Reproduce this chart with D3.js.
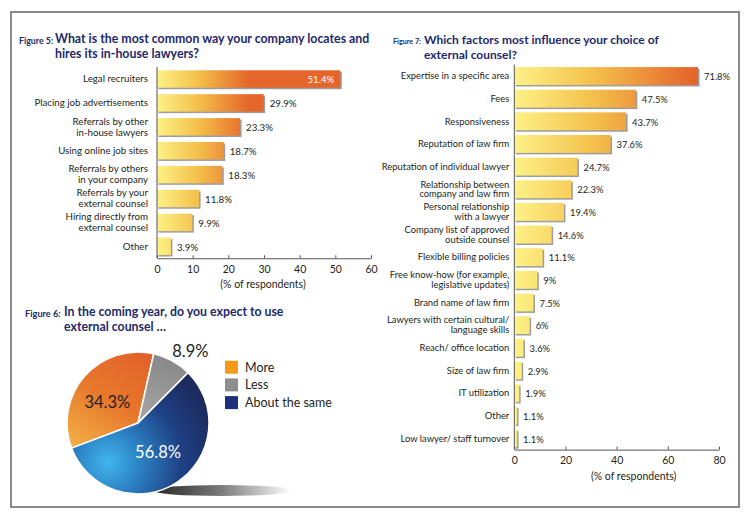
<!DOCTYPE html>
<html lang="en">
<head>
<meta charset="UTF-8">
<script src="https://cdn.jsdelivr.net/npm/d3@7/dist/d3.min.js"></script>
<title>In-house counsel survey</title>
<style>
  body { margin: 0; background: #fff; }
  text { font-family: Lato, "Open Sans", sans-serif; }
</style>
</head>
<body>
<svg></svg>
<script>
// figure 5
const hireCategories = ['Legal recruiters', 'Placing job advertisements', 'Referrals by other\nin-house lawyers',
  'Using online job sites', 'Referrals by others\nin your company', 'Referrals by your\nexternal counsel',
  'Hiring directly from\nexternal counsel', 'Other'];
const hireValues = [51.4, 29.9, 23.3, 18.7, 18.3, 11.8, 9.9, 3.9];
const hireTicks = [0, 10, 20, 30, 40, 50, 60];

// figure 6
const useCategories = ['More', 'Less', 'About the same'];
const useValues = [34.3, 8.9, 56.8];

// figure 7
const factorCategories = ['Expertise in a specific area', 'Fees', 'Responsiveness', 'Reputation of law firm',
  'Reputation of individual lawyer', 'Relationship between\ncompany and law firm', 'Personal relationship\nwith a lawyer',
  'Company list of approved\noutside counsel', 'Flexible billing policies', 'Free know-how (for example,\nlegislative updates)',
  'Brand name of law firm', 'Lawyers with certain cultural/\nlanguage skills', 'Reach/ office location',
  'Size of law firm', 'IT utilization', 'Other', 'Low lawyer/ staff turnover'];
const factorValues = [71.8, 47.5, 43.7, 37.6, 24.7, 22.3, 19.4, 14.6, 11.1, 9, 7.5, 6, 3.6, 2.9, 1.9, 1.1, 1.1];
const factorTicks = [0, 20, 40, 60, 80];

const navy = '#232a6b';

const svg = d3.select('svg').attr('width', 750).attr('height', 516);
const defs = svg.append('defs');

svg.append('rect')
  .attr('x', 11).attr('y', 12).attr('width', 728).attr('height', 495)
  .attr('fill', '#fff').attr('stroke', '#8a8a8a').attr('stroke-width', 2);

function title(x, y, fig, figSize, gap, size, lines) {
  svg.append('text').attr('x', x).attr('y', y)
    .attr('font-size', figSize).attr('font-weight', 'bold').attr('fill', navy).text(fig);
  lines.forEach((t, i) => {
    svg.append('text').attr('x', x + gap).attr('y', y - 0.5 + i * 15)
      .attr('font-size', size).attr('font-weight', 'bold').attr('fill', navy).text(t);
  });
}

function barGradient(id, x0, x1) {
  const g = defs.append('linearGradient').attr('id', id)
    .attr('gradientUnits', 'userSpaceOnUse')
    .attr('x1', x0).attr('x2', x1).attr('y1', 0).attr('y2', 0);
  g.append('stop').attr('offset', 0).attr('stop-color', '#fdf286');
  g.append('stop').attr('offset', 0.45).attr('stop-color', '#f4bf4a');
  g.append('stop').attr('offset', 1).attr('stop-color', '#e5652a');
}

function barChart(opt) {
  const x = d3.scaleLinear().domain(opt.domain).range(opt.xr);
  const y = d3.scaleBand().domain(opt.cats).range(opt.yr)
    .paddingInner(opt.pad).paddingOuter(opt.pad / 2);
  const g = svg.append('g');
  barGradient(opt.id, x(0), x(opt.gradTo));

  const rows = g.selectAll('g.row').data(opt.cats.map((c, i) => ({ c, v: opt.vals[i] })))
    .join('g').attr('class', 'row');

  rows.append('rect')
    .attr('x', x(0) + 1.5).attr('y', d => y(d.c) + 1.5)
    .attr('width', d => x(d.v) - x(0)).attr('height', y.bandwidth())
    .attr('fill', '#9d9d9d');
  rows.append('rect')
    .attr('x', x(0)).attr('y', d => y(d.c))
    .attr('width', d => x(d.v) - x(0)).attr('height', y.bandwidth())
    .attr('fill', `url(#${opt.id})`);

  // category labels, one text per line
  rows.each(function (d) {
    const lines = d.c.split('\n');
    const cy = y(d.c) + y.bandwidth() / 2;
    d3.select(this).selectAll('text.cat').data(lines).join('text')
      .attr('class', 'cat')
      .attr('text-anchor', 'end')
      .attr('font-size', opt.fs).attr('fill', '#231f20')
      .attr('x', x(0) - opt.labelGap)
      .attr('y', (l, i) => cy + (i - (lines.length - 1) / 2) * opt.lh + opt.fs * 0.35)
      .text(l => l);
  });

  rows.append('text')
    .attr('font-size', opt.fs).attr('fill', d => d.v > opt.inside ? '#fff' : '#231f20')
    .attr('text-anchor', d => d.v > opt.inside ? 'end' : 'start')
    .attr('x', d => d.v > opt.inside ? x(d.v) - 6 : x(d.v) + 6)
    .attr('y', d => y(d.c) + y.bandwidth() / 2 + opt.fs * 0.45)
    .text(d => d.v + '%');

  g.append('line')
    .attr('x1', x(0)).attr('x2', x(0))
    .attr('y1', opt.yr[0]).attr('y2', opt.yr[1])
    .attr('stroke', '#555');

  const axis = g.append('g')
    .attr('transform', `translate(0,${opt.yr[1]})`)
    .call(d3.axisBottom(x).tickValues(opt.ticks).tickSize(-3).tickSizeOuter(0).tickPadding(7));
  axis.select('.domain').attr('stroke', '#555');
  axis.selectAll('.tick line').attr('stroke', '#555');
  axis.selectAll('.tick text').attr('font-size', 10.5).attr('fill', '#231f20')
    .style('font-family', 'Lato, sans-serif');

  g.append('text')
    .attr('x', (x.range()[0] + x.range()[1]) / 2 + opt.titleDx)
    .attr('y', opt.yr[1] + 30)
    .attr('text-anchor', 'middle').attr('font-size', 10.5).attr('fill', '#231f20')
    .text('(% of respondents)');
}

title(19, 43.5, 'Figure 5:', 8.8, 36, 12.35, ['What is the most common way your company locates and', 'hires its in-house lawyers?']);
barChart({ id: 'g5', cats: hireCategories, vals: hireValues, ticks: hireTicks, domain: [0, 60],
  xr: [157, 371], yr: [67.05, 258.25], pad: 0.27, gradTo: 26, inside: 40, fs: 9.7, lh: 11, labelGap: 9, titleDx: -1 });

title(393, 44, 'Figure 7:', 7.2, 31, 12.0, ['Which factors most influence your choice of', 'external counsel?']);
barChart({ id: 'g7', cats: factorCategories, vals: factorValues, ticks: factorTicks, domain: [0, 80],
  xr: [514.3, 719], yr: [64.7, 449.6], pad: 0.21, gradTo: 70, inside: 100, fs: 9.4, lh: 9.8, labelGap: 5, titleDx: 17 });

// figure 6 pie
title(25, 316.5, 'Figure 6:', 9.2, 39, 12.3, ['In the coming year, do you expect to use', 'external counsel …']);

const cx = 138, cy = 423, r = 71;

const sh = defs.append('linearGradient').attr('id', 'shadow')
  .attr('gradientUnits', 'userSpaceOnUse').attr('x1', 150).attr('x2', 292).attr('y1', 0).attr('y2', 0);
sh.append('stop').attr('offset', 0).attr('stop-color', '#222');
sh.append('stop').attr('offset', 0.5).attr('stop-color', '#7a7a7a');
sh.append('stop').attr('offset', 1).attr('stop-color', '#fff');
svg.append('ellipse').attr('cx', 222).attr('cy', 490.5).attr('rx', 70).attr('ry', 5.5)
  .attr('fill', 'url(#shadow)');

// slice gradients, in coordinates relative to the pie centre
const gOrange = defs.append('linearGradient').attr('id', 'pMore')
  .attr('gradientUnits', 'userSpaceOnUse').attr('x1', 12).attr('y1', -68).attr('x2', -66).attr('y2', 45);
gOrange.append('stop').attr('offset', 0).attr('stop-color', '#e2612a');
gOrange.append('stop').attr('offset', 0.45).attr('stop-color', '#e8792c');
gOrange.append('stop').attr('offset', 1).attr('stop-color', '#f6c04e');

const gGrey = defs.append('linearGradient').attr('id', 'pLess')
  .attr('gradientUnits', 'userSpaceOnUse').attr('x1', 32).attr('y1', -68).attr('x2', 7).attr('y2', -8);
gGrey.append('stop').attr('offset', 0).attr('stop-color', '#878787');
gGrey.append('stop').attr('offset', 1).attr('stop-color', '#a3a3a3');

const gBlue = defs.append('radialGradient').attr('id', 'pSame')
  .attr('gradientUnits', 'userSpaceOnUse').attr('cx', -30).attr('cy', 39).attr('r', 112);
gBlue.append('stop').attr('offset', 0).attr('stop-color', '#41b6ec');
gBlue.append('stop').attr('offset', 0.3).attr('stop-color', '#2b7fc2');
gBlue.append('stop').attr('offset', 0.65).attr('stop-color', '#1f4185');
gBlue.append('stop').attr('offset', 1).attr('stop-color', '#1c2a5e');

const sliceFill = { 'More': 'url(#pMore)', 'Less': 'url(#pLess)', 'About the same': 'url(#pSame)' };
const legendFill = d3.scaleOrdinal().domain(useCategories).range(['#f39a1b', '#8e8e8e', '#1f2f7c']);

const start = -110.7 * Math.PI / 180;
const pie = d3.pie().sort(null).value(d => d.v).startAngle(start).endAngle(start + 2 * Math.PI);
const arcs = pie(useCategories.map((c, i) => ({ c, v: useValues[i] })));
const arc = d3.arc().innerRadius(0).outerRadius(r);

const pg = svg.append('g').attr('transform', `translate(${cx},${cy})`);
pg.selectAll('path').data(arcs).join('path')
  .attr('d', arc)
  .attr('fill', d => sliceFill[d.data.c])
  .attr('stroke', '#fff').attr('stroke-width', 1.5);

const labelR = { 'More': 42, 'Less': 90, 'About the same': 35 };
const labelDx = { 'More': 1, 'Less': 9, 'About the same': 1 };
const labelDy = { 'More': 12.5, 'Less': 13, 'About the same': 6 };
pg.selectAll('text').data(arcs).join('text')
  .attr('transform', d => {
    const lr = labelR[d.data.c];
    const [lx, ly] = d3.arc().innerRadius(lr).outerRadius(lr).centroid(d);
    return `translate(${lx + labelDx[d.data.c]},${ly + labelDy[d.data.c]})`;
  })
  .attr('text-anchor', 'middle').attr('font-size', 16.5)
  .attr('fill', d => d.data.c === 'About the same' ? '#fff' : '#231f20')
  .text(d => d.data.v + '%');

const lg = svg.append('g').attr('transform', 'translate(225,360.7)');
const item = lg.selectAll('g').data(useCategories).join('g')
  .attr('transform', (d, i) => `translate(0,${i * 17.7})`);
item.append('rect').attr('width', 13).attr('height', 13).attr('fill', d => legendFill(d));
item.append('text').attr('x', 20).attr('y', 11).attr('font-size', 12.5).attr('fill', '#231f20').text(d => d);
</script>
</body>
</html>
